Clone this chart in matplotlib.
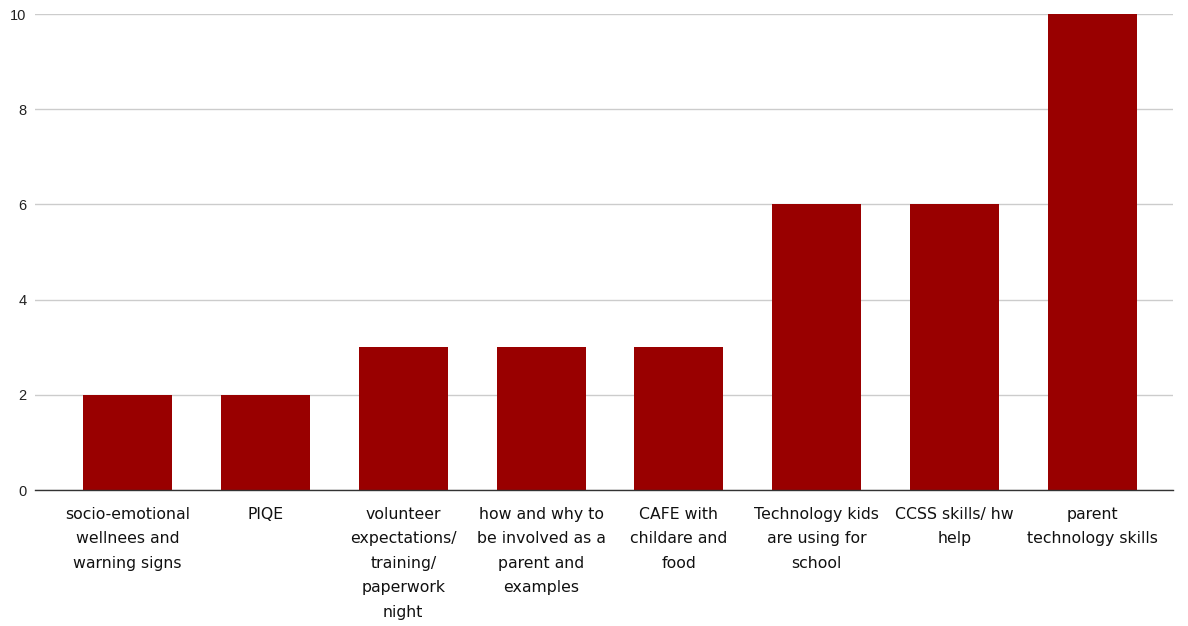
import matplotlib.pyplot as plt
import numpy as np

categories = [
    "socio-emotional\nwellnees and\nwarning signs",
    "PIQE",
    "volunteer\nexpectations/\ntraining/\npaperwork\nnight",
    "how and why to\nbe involved as a\nparent and\nexamples",
    "CAFE with\nchildare and\nfood",
    "Technology kids\nare using for\nschool",
    "CCSS skills/ hw\nhelp",
    "parent\ntechnology skills",
]
counts = [2, 2, 3, 3, 3, 6, 6, 10]
yticks = [0, 2, 4, 6, 8, 10]

fig = plt.figure(figsize=(11.88, 6.26), dpi=100)
ax = fig.add_axes([35 / 1188, 1 - 490 / 626, (1173 - 35) / 1188, (490 - 14) / 626])

x = np.arange(len(categories))
ax.bar(x, counts, width=0.646, color="#990000", zorder=3)

ax.set_xlim(-0.671, 7.584)
ax.set_ylim(0, 10)
ax.set_yticks(yticks)
ax.set_yticklabels([str(v) for v in yticks], fontsize=10.5, color="#222222",
                   family="Liberation Sans")
ax.yaxis.grid(True, color="#cccccc", linewidth=1, zorder=0)
ax.tick_params(axis="y", length=0, pad=6)
ax.tick_params(axis="x", length=0, pad=12)
ax.set_xticks(x)
ax.set_xticklabels(categories, fontsize=11.3, color="#111111", linespacing=1.8,
                   family="DejaVu Sans")

for side in ["top", "right", "left"]:
    ax.spines[side].set_visible(False)
ax.spines["bottom"].set_color("#333333")
ax.spines["bottom"].set_linewidth(1)
ax.spines["bottom"].set_zorder(4)

fig.savefig("out.png", dpi=100)
